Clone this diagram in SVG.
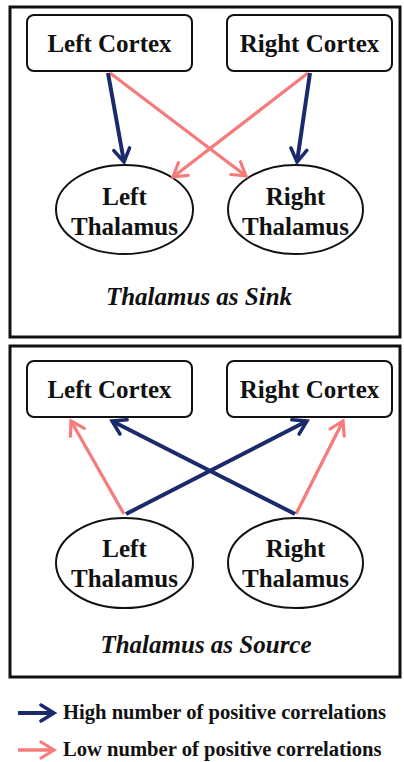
<svg xmlns="http://www.w3.org/2000/svg" width="404" height="762" viewBox="0 0 404 762">
<style>
.panel{fill:none;stroke:#111;stroke-width:3}
.box{fill:#fff;stroke:#111;stroke-width:2}
.ell{fill:#fff;stroke:#111;stroke-width:2}
.lbl{font-family:"Liberation Serif","Times New Roman",serif;font-weight:bold;font-size:25px;fill:#111;text-anchor:middle}
.cap{font-family:"Liberation Serif","Times New Roman",serif;font-weight:bold;font-style:italic;font-size:25px;fill:#111;text-anchor:middle}
.leg{font-family:"Liberation Serif","Times New Roman",serif;font-weight:bold;font-size:20.6px;fill:#111}
.hi{stroke:#1b2a6b;stroke-width:4;fill:none;marker-end:url(#mHi)}
.lo{stroke:#f77b7b;stroke-width:3.3;fill:none;marker-end:url(#mLo)}
</style>
<defs>
<marker id="mHi" viewBox="-16 -10 20 20" refX="0" refY="0" markerWidth="20" markerHeight="20" markerUnits="userSpaceOnUse" orient="auto">
<path d="M-13,-8 L0,0 L-13,8" fill="none" stroke="#1b2a6b" stroke-width="3.5" stroke-linecap="round"/>
</marker>
<marker id="mLo" viewBox="-16 -10 20 20" refX="0" refY="0" markerWidth="20" markerHeight="20" markerUnits="userSpaceOnUse" orient="auto">
<path d="M-13,-8 L0,0 L-13,8" fill="none" stroke="#f77b7b" stroke-width="3.2" stroke-linecap="round"/>
</marker>
</defs>
<rect width="404" height="762" fill="#fff"/>

<!-- Top panel -->
<rect class="panel" x="10" y="7" width="390" height="330"/>
<g id="sink-left-cortex"><rect class="box" x="27" y="15" width="165" height="56" rx="7"/><text class="lbl" x="109.5" y="52">Left Cortex</text></g>
<g id="sink-right-cortex"><rect class="box" x="227" y="15" width="165" height="56" rx="7"/><text class="lbl" x="309.5" y="52">Right Cortex</text></g>
<g id="sink-left-thalamus"><ellipse class="ell" cx="124.5" cy="209.5" rx="68.5" ry="44.5"/><text class="lbl" x="124.5" y="205">Left</text><text class="lbl" x="124.5" y="235">Thalamus</text></g>
<g id="sink-right-thalamus"><ellipse class="ell" cx="295.5" cy="209.5" rx="67.5" ry="44.5"/><text class="lbl" x="295.5" y="205">Right</text><text class="lbl" x="295.5" y="235">Thalamus</text></g>
<text class="cap" x="199" y="305">Thalamus as Sink</text>

<!-- Bottom panel -->
<rect class="panel" x="10" y="346" width="390" height="331"/>
<g id="src-left-cortex"><rect class="box" x="27" y="361" width="165" height="56" rx="7"/><text class="lbl" x="109.5" y="398">Left Cortex</text></g>
<g id="src-right-cortex"><rect class="box" x="227" y="361" width="165" height="56" rx="7"/><text class="lbl" x="309.5" y="398">Right Cortex</text></g>
<g id="src-left-thalamus"><ellipse class="ell" cx="124.5" cy="563" rx="68.5" ry="45"/><text class="lbl" x="124.5" y="557">Left</text><text class="lbl" x="124.5" y="587">Thalamus</text></g>
<g id="src-right-thalamus"><ellipse class="ell" cx="295.5" cy="563" rx="67.5" ry="45"/><text class="lbl" x="295.5" y="557">Right</text><text class="lbl" x="295.5" y="587">Thalamus</text></g>
<text class="cap" x="206" y="653">Thalamus as Source</text>

<g id="connectors">
<line class="lo" x1="110" y1="73" x2="246" y2="176"/>
<line class="lo" x1="308" y1="73" x2="173" y2="177"/>
<line class="hi" x1="108" y1="73" x2="124" y2="162"/>
<line class="hi" x1="310" y1="73" x2="297" y2="162"/>

<line class="lo" x1="124" y1="514" x2="71" y2="421"/>
<line class="lo" x1="296" y1="514" x2="343" y2="421"/>
<line class="hi" x1="126" y1="514" x2="307" y2="421"/>
<line class="hi" x1="295" y1="514" x2="112" y2="421"/>
</g>

<g id="legend">
<line class="hi" x1="18" y1="713" x2="54" y2="713" stroke-width="4.5"/>
<text class="leg" x="63" y="719">High number of positive correlations</text>
<line class="lo" x1="18" y1="750" x2="54" y2="750" stroke-width="4"/>
<text class="leg" x="63" y="756">Low number of positive correlations</text>
</g>
</svg>
